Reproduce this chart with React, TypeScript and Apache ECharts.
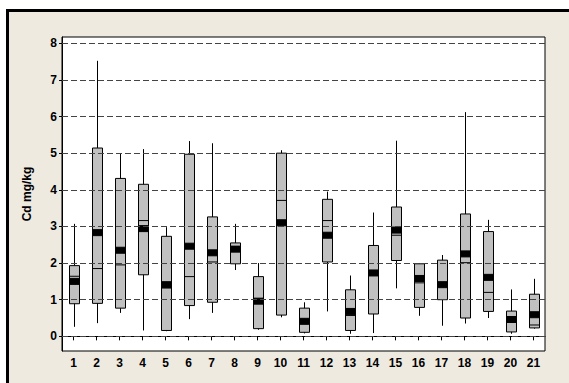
import React, { useEffect, useRef } from "react";
import * as echarts from "echarts";

const categories = ["1","2","3","4","5","6","7","8","9","10","11","12","13","14","15","16","17","18","19","20","21"];
const whiskerLow = [0.26,0.36,0.64,0.16,0.14,0.47,0.64,1.81,0.18,0.52,0.08,0.68,0.07,0.09,1.31,0.56,0.29,0.35,0.50,0.07,0.21];
const q1 = [0.89,0.90,0.77,1.68,0.16,0.84,0.93,1.98,0.21,0.58,0.11,2.03,0.16,0.61,2.07,0.79,1.00,0.50,0.68,0.12,0.23];
const median = [1.64,1.85,1.95,3.16,1.32,1.63,2.03,2.45,0.94,3.71,0.40,3.16,0.57,1.73,2.76,1.46,1.41,2.01,1.20,0.46,0.31];
const q3 = [1.93,5.14,4.31,4.15,2.73,4.97,3.26,2.55,1.63,5.00,0.77,3.74,1.27,2.48,3.53,1.98,2.08,3.34,2.86,0.69,1.15];
const whiskerHigh = [3.07,7.52,5.00,5.11,2.98,5.33,5.27,3.07,2.00,5.08,0.93,3.95,1.66,3.38,5.34,1.98,2.22,6.12,3.18,1.28,1.57];
const means = [1.50,2.83,2.35,2.94,1.41,2.46,2.28,2.38,0.96,3.10,0.41,2.76,0.68,1.73,2.90,1.58,1.41,2.25,1.61,0.46,0.59];
const yTicks = [0,1,2,3,4,5,6,7,8];

export default function App() {
  const ref = useRef<HTMLDivElement>(null);
  useEffect(() => {
    if (!ref.current) return;
    const chart = echarts.init(ref.current, null, { renderer: "svg" });
    const data = categories.map((c, i) => [i, whiskerLow[i], q1[i], median[i], q3[i], whiskerHigh[i], means[i]]);
    const font = "'Liberation Sans', Arial, sans-serif";
    chart.setOption({
      animation: false,
      backgroundColor: "transparent",
      grid: { left: 62, right: 24, top: 37, bottom: 32, show: true, backgroundColor: "#fff", borderColor: "#000", borderWidth: 1 },
      xAxis: {
        type: "category",
        data: categories,
        axisLine: { show: true, lineStyle: { color: "#000", width: 1 } },
        axisTick: { show: true, alignWithLabel: true, length: 4, lineStyle: { color: "#000" } },
        axisLabel: { color: "#000", fontWeight: "bold", fontSize: 12, fontFamily: font, margin: 6, interval: 0 },
        splitLine: { show: false },
      },
      yAxis: {
        type: "value",
        min: -0.4,
        max: 8.17,
        name: "Cd mg/kg",
        nameLocation: "middle",
        nameGap: 29,
        nameTextStyle: { color: "#000", fontWeight: "bold", fontSize: 12, fontFamily: font },
        axisLine: { show: true, lineStyle: { color: "#000", width: 1 } },
        axisTick: { show: true, length: 3, customValues: yTicks, lineStyle: { color: "#000" } },
        axisLabel: { color: "#000", fontWeight: "bold", fontSize: 12, fontFamily: font, margin: 5, customValues: yTicks },
        splitLine: { show: false },
      },
      series: [
        {
          type: "custom",
          data,
          encode: { x: 0, y: [1, 2, 3, 4, 5] },
          markLine: {
            silent: true,
            symbol: "none",
            label: { show: false },
            lineStyle: { color: "#444", type: [6, 3], width: 1 },
            data: yTicks.map((v) => ({ yAxis: v })),
          },
          renderItem: (params: any, api: any) => {
            const x = api.value(0);
            const band = api.size([1, 0])[0];
            const bw = Math.round(band * 0.42);
            const lo = api.coord([x, api.value(1)]);
            const b1 = api.coord([x, api.value(2)]);
            const md = api.coord([x, api.value(3)]);
            const b3 = api.coord([x, api.value(4)]);
            const hi = api.coord([x, api.value(5)]);
            const mn = api.coord([x, api.value(6)]);
            const cx = Math.round(lo[0]) + 0.5;
            const left = cx - bw / 2;
            return {
              type: "group",
              children: [
                { type: "line", shape: { x1: cx, y1: hi[1], x2: cx, y2: lo[1] }, style: { stroke: "#000", lineWidth: 1 } },
                { type: "rect", shape: { x: left, y: b3[1], width: bw, height: b1[1] - b3[1] }, style: { fill: "#C0C0C0", stroke: "#000", lineWidth: 1 } },
                { type: "line", shape: { x1: left, y1: md[1], x2: left + bw, y2: md[1] }, style: { stroke: "#000", lineWidth: 1 } },
                { type: "rect", shape: { x: left, y: mn[1] - 3, width: bw, height: 6 }, style: { fill: "#000", stroke: "#000", lineWidth: 1 } },
              ],
            };
          },
        },
      ],
    });
    return () => chart.dispose();
  }, []);
  return (
    <div style={{ position: "fixed", left: 0, top: 0, width: 569, height: 383, background: "#fff", overflow: "hidden" }}>
      <div style={{ position: "absolute", left: 6, top: 9, width: 566, height: 377, background: "#EEEAE0", borderTop: "3px solid #000", borderLeft: "3px solid #000" }} />
      <div ref={ref} style={{ position: "absolute", left: 0, top: 0, width: 569, height: 383 }} />
    </div>
  );
}
